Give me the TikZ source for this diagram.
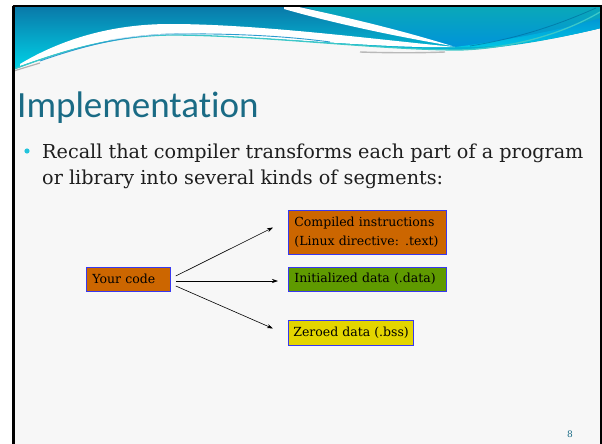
\documentclass[tikz,border=0pt]{standalone}
\usepackage{fontspec}
\setmainfont{DejaVu Serif}
\newfontfamily\titlefont[Ligatures={NoCommon,NoRequired,NoContextual}]{Carlito}
\usetikzlibrary{arrows.meta,calc}

\definecolor{slidebg}{HTML}{F7F7F7}
\definecolor{hdtop}{HTML}{0A78A8}
\definecolor{hdbot}{HTML}{00D4E8}
\definecolor{hdrtop}{HTML}{0AA8B8}
\definecolor{hdrbot}{HTML}{0094DA}
\definecolor{waveline}{HTML}{2C9CD0}
\definecolor{wavecyan}{HTML}{3CC8C8}
\definecolor{titleblue}{HTML}{1A6B85}
\definecolor{bulletcyan}{HTML}{22C4DC}
\definecolor{bodytext}{HTML}{1E1E1E}
\definecolor{segorange}{HTML}{CC6600}
\definecolor{seggreen}{HTML}{5F9A00}
\definecolor{segyellow}{HTML}{E3D500}
\definecolor{segedge}{HTML}{3838F0}

\tikzset{
  segbox/.style={draw=segedge, line width=0.8pt, inner xsep=6pt, inner ysep=0pt,
    font=\fontsize{12.5}{19}\selectfont, text=black, align=left, anchor=west},
  bodyline/.style={anchor=base west, inner sep=0pt, text=bodytext,
    font=\fontsize{19.2}{26}\selectfont},
  flow/.style={draw=black, line width=0.6pt, -{Stealth[length=6pt,width=4pt]}}
}

\begin{document}
\begin{tikzpicture}[x=1pt,y=-1pt]
\useasboundingbox (0,0) rectangle (602,444);
\fill[white] (0,0) rectangle (602,444);
\fill[slidebg] (13,6) rectangle (601,444);

% header: main blue band, bounded below by the wave line
\shade[top color=hdtop, bottom color=hdbot]
  (13,6) -- (601,6) -- (601,28)
  .. controls (560,38) and (510,48) .. (460,50)
  .. controls (380,50) and (260,35) .. (170,35)
  .. controls (110,35) and (60,52) .. (13,70) -- cycle;

% right-hand teal sweep
\shade[top color=hdrtop, bottom color=hdrbot]
  (300,6) -- (601,6) -- (601,28)
  .. controls (560,38) and (510,46) .. (455,47)
  .. controls (410,36) and (360,22) .. (300,6) -- cycle;
\shade[top color=hdrbot, bottom color=hdbot, opacity=0.8]
  (601,18) .. controls (560,30) and (510,40) .. (455,47)
  .. controls (510,48) and (560,38) .. (601,28) -- cycle;

% white streak in the top band
\fill[white]
  (284,6) -- (294,6)
  .. controls (360,20) and (410,33) .. (452,46)
  .. controls (400,37) and (340,25) .. (284,9) -- cycle;

% white wave above the line
\fill[white]
  (20,64) .. controls (60,40) and (110,24) .. (170,24)
  .. controls (260,24) and (380,40) .. (455,47)
  .. controls (380,49) and (260,35) .. (170,35)
  .. controls (110,35) and (60,52) .. (20,66) -- cycle;

% the wave line itself
\draw[gray!60, line width=1.2pt] (14,71) .. controls (20,69) and (30,66) .. (40,63);
\draw[gray!55, line width=1.4pt] (360,52) .. controls (390,53) and (420,53) .. (445,52);
\draw[wavecyan, line width=1.3pt]
  (14,69) .. controls (60,52) and (110,36) .. (170,35)
  .. controls (260,35) and (380,50) .. (460,50)
  .. controls (520,48) and (570,30) .. (600,12);
\draw[waveline, line width=0.9pt]
  (40,61) .. controls (80,47) and (120,36) .. (170,34)
  .. controls (250,33) and (300,38) .. (330,42);
\draw[white!70!waveline, line width=0.6pt]
  (110,40) .. controls (140,35) and (170,33) .. (200,34);
\draw[hdrbot!70!black, line width=0.8pt, opacity=0.6]
  (470,46) .. controls (520,38) and (560,24) .. (596,8);

% slide frame
\draw[black, line width=2.4pt] (13.5,444) -- (13.5,6);
\draw[black, line width=2pt] (12.5,6) -- (601,6);
\draw[black, line width=1.6pt] (600.8,5) -- (600.8,444);

% title and bullet
\node[anchor=base west, inner sep=0pt, text=titleblue,
      font=\titlefont\fontsize{37}{37}\selectfont] (title) at (17,117) {Implementation};
\fill[bulletcyan] (27,151) circle (2.6pt);
\node[bodyline] (body1) at (42,158) {Recall that compiler transforms each part of a program};
\node[bodyline] (body2) at (42,184) {or library into several kinds of segments:};

% segments diagram
\node[segbox, fill=segorange, minimum width=84pt, minimum height=24pt, text width=72pt]
  (code) at (86,279) {Your code};
\node[segbox, fill=segorange, minimum width=158pt, minimum height=44pt, text width=146pt]
  (txt) at (288,232.5) {Compiled instructions\\(Linux directive: .text)};
\node[segbox, fill=seggreen, minimum width=158pt, minimum height=24pt, text width=146pt]
  (data) at (288,279) {Initialized data (.data)};
\node[segbox, fill=segyellow, inner xsep=5pt, minimum height=25pt]
  (bss) at (288,332.5) {Zeroed data (.bss)};

\draw[flow] ($(code.east)+(5,-3)$) -- ($(txt.west)+(-15,-5)$);
\draw[flow] ($(code.east)+(5,2)$) -- ($(data.west)+(-10,2)$);
\draw[flow] ($(code.east)+(5,7)$) -- ($(bss.west)+(-15,-4)$);

% page number
\node[text=titleblue, font=\fontsize{9}{9}\selectfont, inner sep=0pt] (pagenum) at (570,434) {8};
\end{tikzpicture}
\end{document}
